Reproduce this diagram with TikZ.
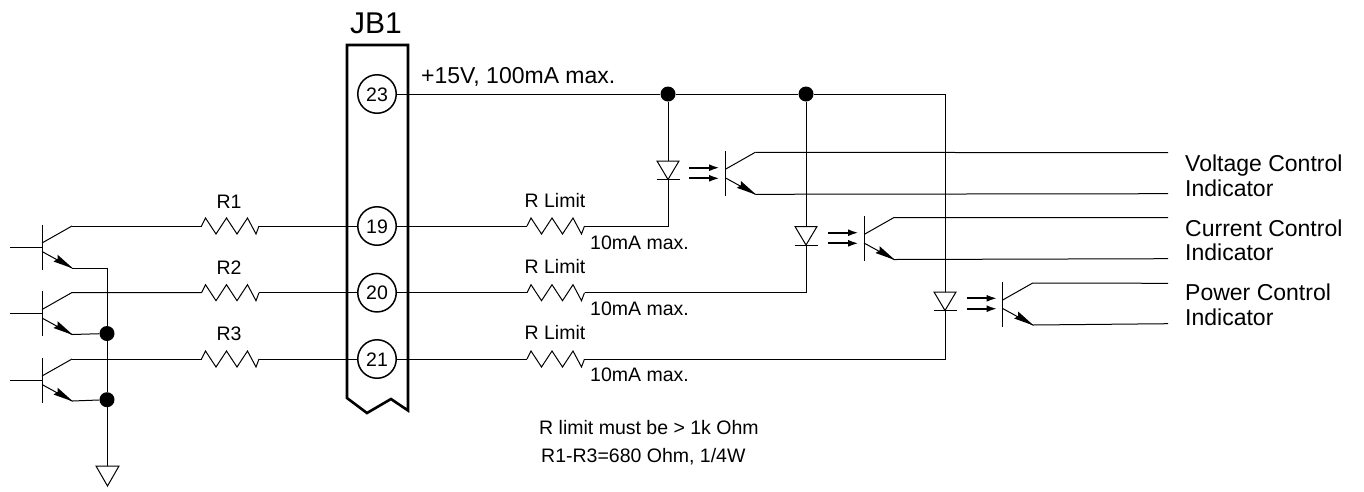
\documentclass[tikz,border=0pt]{standalone}
\usepackage{fontspec}
\setmainfont{Liberation Sans}
\usetikzlibrary{arrows.meta}
\tikzset{
  x=1pt,y=-1pt,
  wire/.style={line width=1pt,line join=miter},
  pinc/.style={circle,draw,line width=1.5pt,minimum size=38.5pt,inner sep=0pt,text height=14pt,text depth=0pt,font=\fontsize{19.5}{19.5}\selectfont},
  dot/.style={circle,fill=black,minimum size=15pt,inner sep=0pt},
  lab/.style={inner sep=0pt,text height=13.8pt,text depth=0pt,font=\fontsize{19.5}{19.5}\selectfont},
  biglab/.style={inner sep=0pt,text height=16.5pt,text depth=0pt,font=\fontsize{23}{23}\selectfont,anchor=west},
  res/.pic={\draw[wire] (0,0) -- (4,-8) -- (14.5,8) -- (25,-8) -- (35.5,8) -- (46,-8) -- (54.5,8) -- (57.5,0);
     \coordinate (-a) at (0,0); \coordinate (-b) at (57.5,0);},
  bjt/.pic={\draw[wire] (0,-22.5) -- (0,22.5);
     \draw[wire] (0,-4) -- (30,-21);
     \draw[wire] (0,4.5) -- (30,21);
     \fill (31,21.5) -- (15.5,7.6) -- (15.5,12) -- (11.5,14.5) -- cycle;
     \coordinate (-b) at (0,0); \coordinate (-c) at (30,-21); \coordinate (-e) at (30,21);},
  diode/.pic={\draw[wire,line join=miter] (-11,-18.5) -- (11,-18.5) -- (0,0) -- cycle;
     \draw[wire] (-11.5,0) -- (11.5,0);
     \coordinate (-k) at (0,0); \coordinate (-a) at (0,-18.5);},
  light/.style={line width=2.2pt,-{Latex[length=11pt,width=7pt]}}
}
\begin{document}
\begin{tikzpicture}
\useasboundingbox (0,0) rectangle (1364,491);
% connector
\draw[line width=2.6pt,line join=miter] (347,398) -- (347,45) -- (408,45) -- (408,410.5) -- (391,399) -- (367,413) -- cycle;
\node[inner sep=0pt,text height=21.5pt,text depth=0pt,font=\fontsize{30}{30}\selectfont] (jb) at (376,23) {JB1};
\node[pinc] (p23) at (377,94) {23};
\node[pinc] (p19) at (377,226) {19};
\node[pinc] (p20) at (377,292.7) {20};
\node[pinc] (p21) at (377,359) {21};
% left transistors
\pic (q1) at (42,247) {bjt};
\pic (q2) at (42,313.5) {bjt};
\pic (q3) at (42,380) {bjt};
\coordinate (b1) at (10,247); \coordinate (b2) at (10,313.5); \coordinate (b3) at (10,380);
\draw[wire] (b1) -- (q1-b); \draw[wire] (b2) -- (q2-b); \draw[wire] (b3) -- (q3-b);
% resistors
\pic (r1) at (201.5,226) {res};
\pic (r2) at (201.5,292.7) {res};
\pic (r3) at (201.5,359) {res};
\pic (l1) at (527,226) {res};
\pic (l2) at (527,292.7) {res};
\pic (l3) at (527,359) {res};
\draw[wire] (q1-c) -- (r1-a); \draw[wire] (r1-b) -- (p19);
\draw[wire] (q2-c) -- (r2-a); \draw[wire] (r2-b) -- (p20);
\draw[wire] (q3-c) -- (r3-a); \draw[wire] (r3-b) -- (p21);
\draw[wire] (p19) -- (l1-a); \draw[wire] (p20) -- (l2-a); \draw[wire] (p21) -- (l3-a);
% ground bus
\node[dot] (g2) at (107,333.5) {};
\node[dot] (g3) at (107,399.7) {};
\coordinate (g1) at (107,268);
\coordinate (gnd) at (107,466);
\draw[wire] (q1-e) -- (g1) -- (g2) -- (g3) -- (gnd);
\draw[wire] (q2-e) -- (g2); \draw[wire] (q3-e) -- (g3);
\draw[wire,line join=miter] (96,466) -- (119,466) -- (107.5,486) -- cycle;
% +15V
\node[dot] (d1) at (668,94) {};
\node[dot] (d2) at (806,94) {};
\coordinate (top3) at (945,94);
\draw[wire] (p23) -- (d1) -- (d2) -- (top3);
% diodes
\pic (e1) at (668,179.5) {diode};
\pic (e2) at (806,245) {diode};
\pic (e3) at (945,310.5) {diode};
\coordinate (c1) at (668,226); \coordinate (c2) at (806,292.7); \coordinate (c3) at (945,359);
\draw[wire] (d1) -- (e1-a); \draw[wire] (d2) -- (e2-a); \draw[wire] (top3) -- (e3-a);
\draw[wire] (e1-k) -- (c1) -- (l1-b);
\draw[wire] (e2-k) -- (c2) -- (l2-b);
\draw[wire] (e3-k) -- (c3) -- (l3-b);
% optotransistors
\pic (o1) at (725.3,173.3) {bjt};
\pic (o2) at (864,238.5) {bjt};
\pic (o3) at (1002.7,304) {bjt};
\coordinate (oc1) at (1168,152.7); \coordinate (oe1) at (1168,193.7);
\coordinate (oc2) at (1168,217.7); \coordinate (oe2) at (1168,258.7);
\coordinate (oc3) at (1168,283.3); \coordinate (oe3) at (1168,323.7);
\draw[wire] (o1-c) -- (oc1); \draw[wire] (o1-e) -- (oe1);
\draw[wire] (o2-c) -- (oc2); \draw[wire] (o2-e) -- (oe2);
\draw[wire] (o3-c) -- (oc3); \draw[wire] (o3-e) -- (oe3);
\foreach \x/\y in {689/167.7,689/178.3,828/232.7,828/243.3,966.5/298.3,966.5/308.7}{
  \draw[light] (\x,\y) -- (\x+31,\y);
}
% labels
\node[lab] (tr1) at (229,201.5) {R1};
\node[lab] (tr2) at (229,267.5) {R2};
\node[lab] (tr3) at (229,333.5) {R3};
\node[lab] (tl1) at (555,201) {R Limit};
\node[lab] (tl2) at (555,267) {R Limit};
\node[lab] (tl3) at (555,333) {R Limit};
\node[lab,anchor=west] (m1) at (590,243) {10mA max.};
\node[lab,anchor=west] (m2) at (590,309) {10mA max.};
\node[lab,anchor=west] (m3) at (590,375) {10mA max.};
\node[inner sep=0pt,anchor=west,text height=16.5pt,text depth=0pt,font=\fontsize{23}{23}\selectfont] (v15) at (421,75) {+15V, 100mA max.};
\node[biglab] (v1) at (1185,163) {Voltage Control};
\node[biglab] (v2) at (1185,188) {Indicator};
\node[biglab] (c1t) at (1185,228) {Current Control};
\node[biglab] (c2t) at (1185,252.7) {Indicator};
\node[biglab] (p1t) at (1185,292.7) {Power Control};
\node[biglab] (p2t) at (1185,317.7) {Indicator};
\node[lab,anchor=west] (n1) at (539,428) {R limit must be > 1k Ohm};
\node[lab,anchor=west] (n2) at (541,456) {R1-R3=680 Ohm, 1/4W};
\end{tikzpicture}
\end{document}
